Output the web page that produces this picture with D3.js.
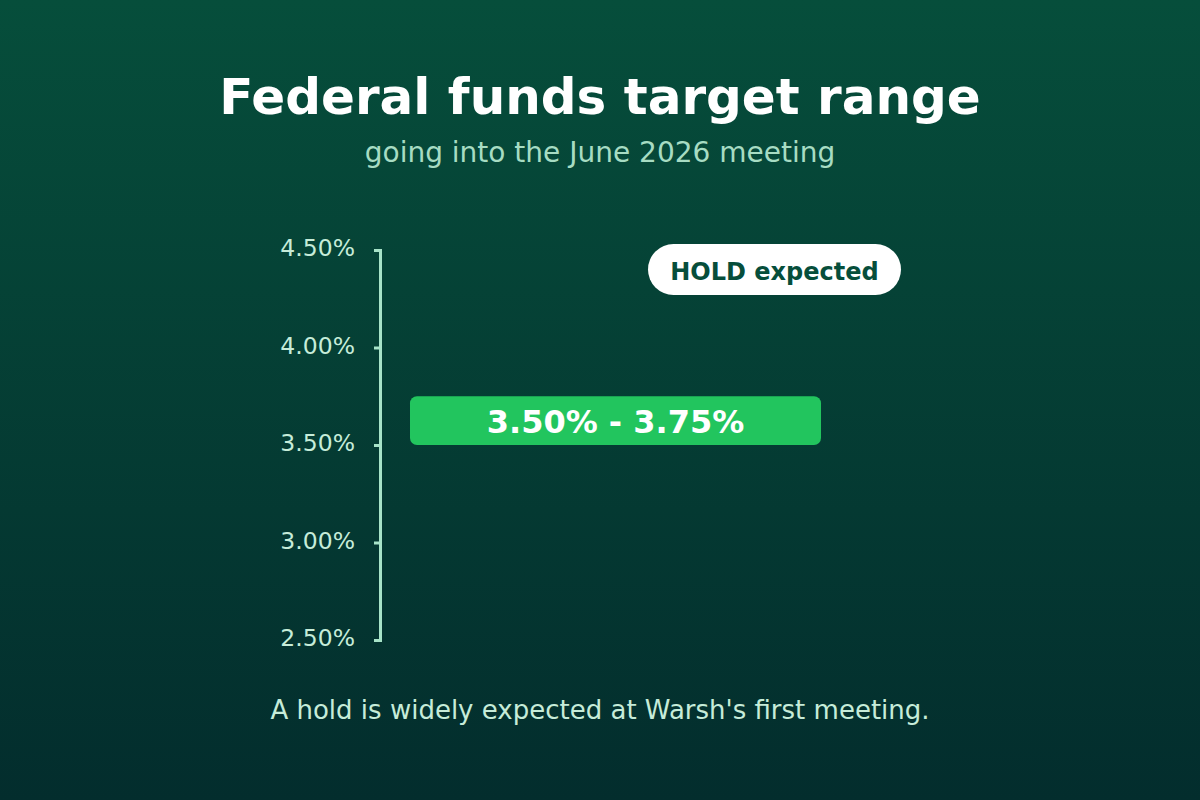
<!DOCTYPE html>
<html>
<head>
<meta charset="utf-8">
<script src="https://cdn.jsdelivr.net/npm/d3@7"></script>
<style>
  html, body { margin: 0; padding: 0; background: #04332f; }
  #chart { width: 1200px; height: 800px; }
  text { font-family: 'DejaVu Sans', sans-serif; }
</style>
</head>
<body>
<div id="chart"></div>
<script>
(function () {
  'use strict';

  // Data
  const CATEGORIES = ['Current target range'];
  const RANGE_LOW  = [3.50];
  const RANGE_HIGH = [3.75];
  const Y_TICKS    = [2.50, 3.00, 3.50, 4.00, 4.50];
  const BADGE_TEXT = 'HOLD expected';
  const BADGE_AT   = 4.40;

  const W = 1200, H = 800;

  const svg = d3.select('#chart')
    .append('svg')
    .attr('width', W)
    .attr('height', H)
    .attr('viewBox', `0 0 ${W} ${H}`);

  // Background gradient
  const defs = svg.append('defs');
  const grad = defs.append('linearGradient')
    .attr('id', 'bg')
    .attr('x1', 0).attr('y1', 0)
    .attr('x2', 0).attr('y2', 1);
  grad.append('stop').attr('offset', '0%').attr('stop-color', '#064e3b');
  grad.append('stop').attr('offset', '100%').attr('stop-color', '#032d2d');

  svg.append('rect')
    .attr('width', W).attr('height', H)
    .attr('fill', 'url(#bg)');

  // Titles
  svg.append('text')
    .attr('x', W / 2).attr('y', 114)
    .attr('text-anchor', 'middle')
    .attr('fill', '#ffffff')
    .attr('font-size', '50px')
    .attr('font-weight', 'bold')
    .text('Federal funds target range');

  svg.append('text')
    .attr('x', W / 2).attr('y', 162)
    .attr('text-anchor', 'middle')
    .attr('fill', '#a7dcc3')
    .attr('font-size', '28px')
    .text('going into the June 2026 meeting');

  // Scales
  const y = d3.scaleLinear()
    .domain([2.5, 4.5])
    .range([640, 250]);

  const x = d3.scaleBand()
    .domain(CATEGORIES)
    .range([410, 821])
    .padding(0);

  // Axis
  const axis = d3.axisLeft(y)
    .tickValues(Y_TICKS)
    .tickSize(6)
    .tickSizeOuter(6)
    .tickPadding(19)
    .tickFormat(d => d3.format('.2f')(d) + '%');

  const gAxis = svg.append('g')
    .attr('transform', 'translate(380,0)')
    .call(axis);

  gAxis.select('.domain')
    .attr('stroke', '#a7e3c8')
    .attr('stroke-width', 3);
  gAxis.selectAll('.tick line')
    .attr('stroke', '#a7e3c8')
    .attr('stroke-width', 3);
  gAxis.selectAll('.tick text')
    .attr('fill', '#c6ecd9')
    .attr('font-size', '23.5px')
    .attr('dy', '0.25em')
    .attr('font-family', "'DejaVu Sans', sans-serif");

  // Range bar
  const bars = svg.selectAll('g.range')
    .data(CATEGORIES)
    .join('g')
    .attr('class', 'range');

  bars.append('rect')
    .attr('x', d => x(d))
    .attr('width', x.bandwidth())
    .attr('y', (_, i) => y(RANGE_HIGH[i]))
    .attr('height', (_, i) => y(RANGE_LOW[i]) - y(RANGE_HIGH[i]))
    .attr('rx', 7)
    .attr('fill', '#22c55e');

  bars.append('text')
    .attr('x', d => x(d) + x.bandwidth() / 2)
    .attr('y', (_, i) => (y(RANGE_LOW[i]) + y(RANGE_HIGH[i])) / 2)
    .attr('dy', '0.4em')
    .attr('text-anchor', 'middle')
    .attr('fill', '#ffffff')
    .attr('font-size', '32px')
    .attr('font-weight', 'bold')
    .text((_, i) => `${RANGE_LOW[i].toFixed(2)}% - ${RANGE_HIGH[i].toFixed(2)}%`);

  // Badge
  const badgeW = 253, badgeH = 51, badgeCx = 774.5;
  const badge = svg.append('g')
    .attr('transform', `translate(${badgeCx},${y(BADGE_AT)})`);

  badge.append('rect')
    .attr('x', -badgeW / 2).attr('y', -badgeH / 2)
    .attr('width', badgeW).attr('height', badgeH)
    .attr('rx', badgeH / 2)
    .attr('fill', '#ffffff');

  badge.append('text')
    .attr('text-anchor', 'middle')
    .attr('dy', '0.42em')
    .attr('fill', '#064e3b')
    .attr('font-size', '24px')
    .attr('font-weight', 'bold')
    .text(BADGE_TEXT);

  // Footer note
  svg.append('text')
    .attr('x', W / 2).attr('y', 719)
    .attr('text-anchor', 'middle')
    .attr('fill', '#c6ecd9')
    .attr('font-size', '26px')
    .text("A hold is widely expected at Warsh's first meeting.");
})();
</script>
</body>
</html>
